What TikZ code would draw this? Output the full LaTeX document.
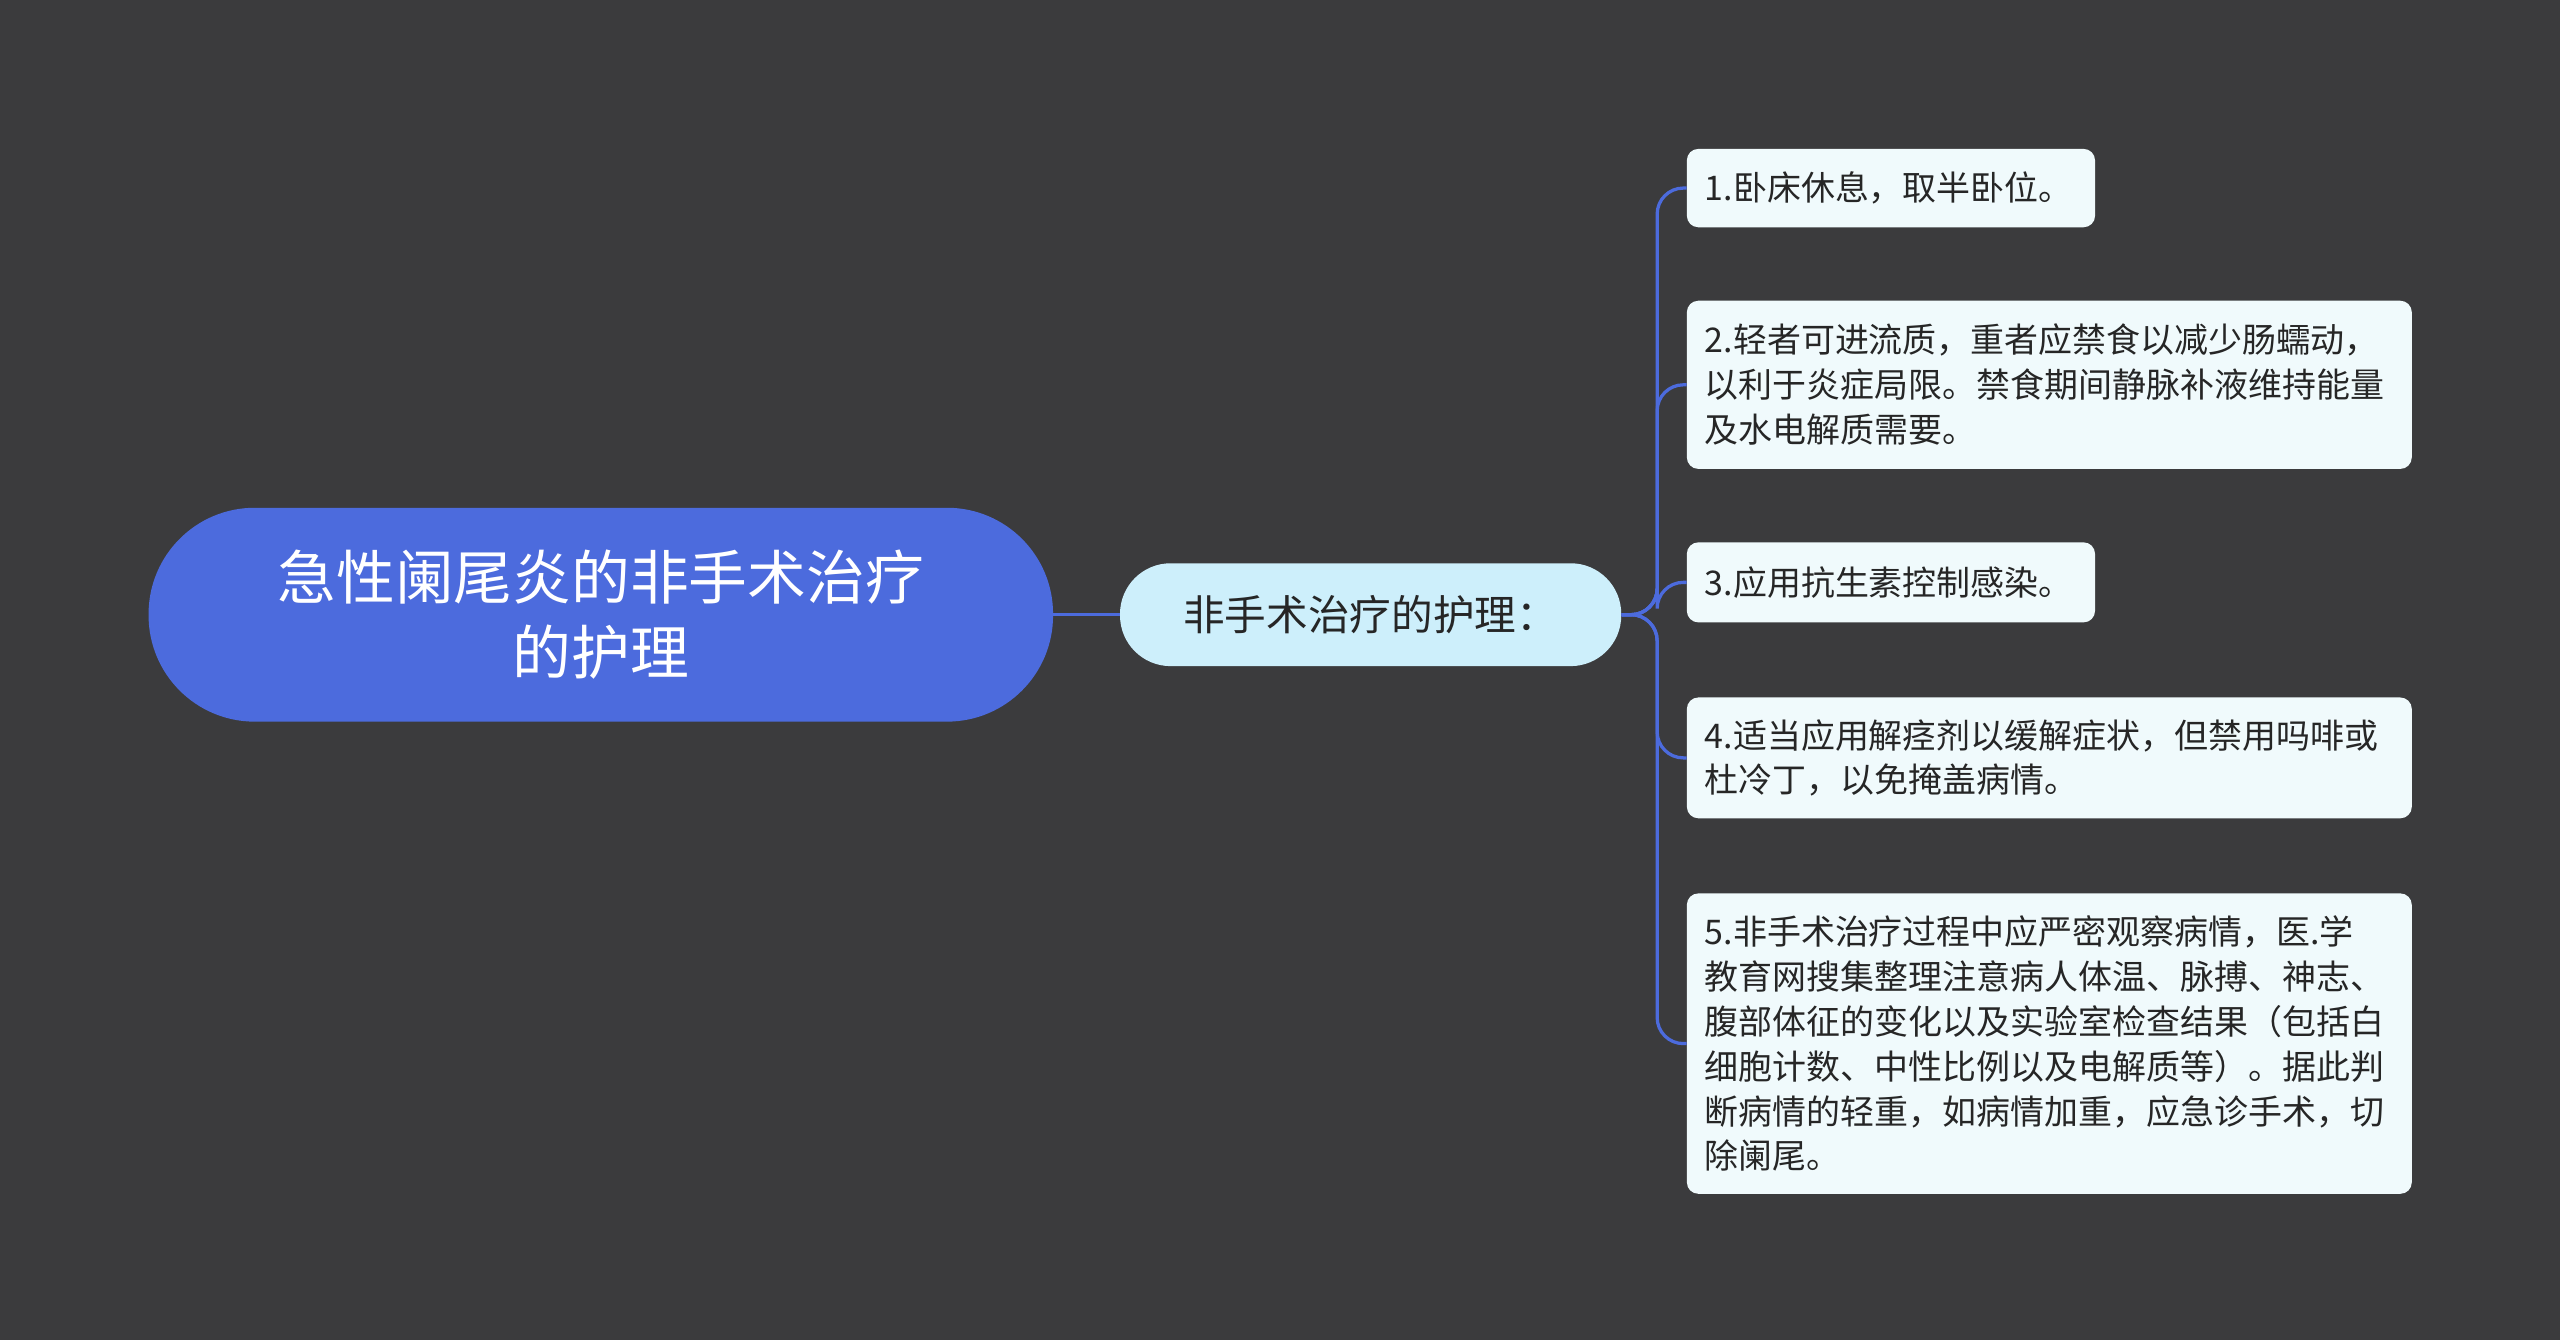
\documentclass[tikz,border=0pt]{standalone}
\usepackage{fontspec}
\setmainfont{Noto Sans CJK SC}
\definecolor{bg}{HTML}{3B3B3D}
\definecolor{rootc}{HTML}{4C6BDD}
\definecolor{midc}{HTML}{CDEFFB}
\definecolor{leafc}{HTML}{F0FAFC}
\definecolor{linec}{HTML}{4C6BDD}
\begin{document}
\begin{tikzpicture}[x=1pt,y=-1pt,
 leaf/.style={fill=leafc,rounded corners=7pt,anchor=north west,align=left,inner xsep=11pt,inner ysep=0pt,text=black!85,font=\fontsize{20.8}{27.5}\selectfont},
 conn/.style={draw=linec,line width=2pt,rounded corners=16pt}]
\fill[bg] (0,0) rectangle (1568,821);
\useasboundingbox (0,0) rectangle (1568,821);
\node[fill=rootc,rounded corners=65pt,minimum width=554pt,minimum height=131pt,text=white,align=center,font=\fontsize{36}{46}\selectfont] (r) at (368,376.5) {急性阑尾炎的非手术治疗\\的护理};
\node[fill=midc,rounded corners=31pt,minimum width=307pt,minimum height=63pt,text=black!85,font=\fontsize{25.5}{30}\selectfont] (m) at (839.5,376.5) {非手术治疗的护理：};
\node[leaf,text width=228pt,minimum height=48pt] (l1) at (1033,91) {1.卧床休息，取半卧位。};
\node[leaf,text width=422pt,minimum height=103pt] (l2) at (1033,184) {2.轻者可进流质，重者应禁食以减少肠蠕动，\\以利于炎症局限。禁食期间静脉补液维持能量\\及水电解质需要。};
\node[leaf,text width=228pt,minimum height=49pt] (l3) at (1033,332) {3.应用抗生素控制感染。};
\node[leaf,text width=422pt,minimum height=74pt] (l4) at (1033,427) {4.适当应用解痉剂以缓解症状，但禁用吗啡或\\杜冷丁，以免掩盖病情。};
\node[leaf,text width=422pt,minimum height=184pt] (l5) at (1033,547) {5.非手术治疗过程中应严密观察病情，医.学\\教育网搜集整理注意病人体温、脉搏、神志、\\腹部体征的变化以及实验室检查结果（包括白\\细胞计数、中性比例以及电解质等）。据此判\\断病情的轻重，如病情加重，应急诊手术，切\\除阑尾。};
\draw[linec,line width=2pt] (r.east) -- (m.west);
\foreach \n in {l1,l2,l3,l4,l5}
 \draw[conn] (m.east) -- (1015,376.5) -- (1015,0 |- \n.west) -- (\n.west);
\end{tikzpicture}
\end{document}
